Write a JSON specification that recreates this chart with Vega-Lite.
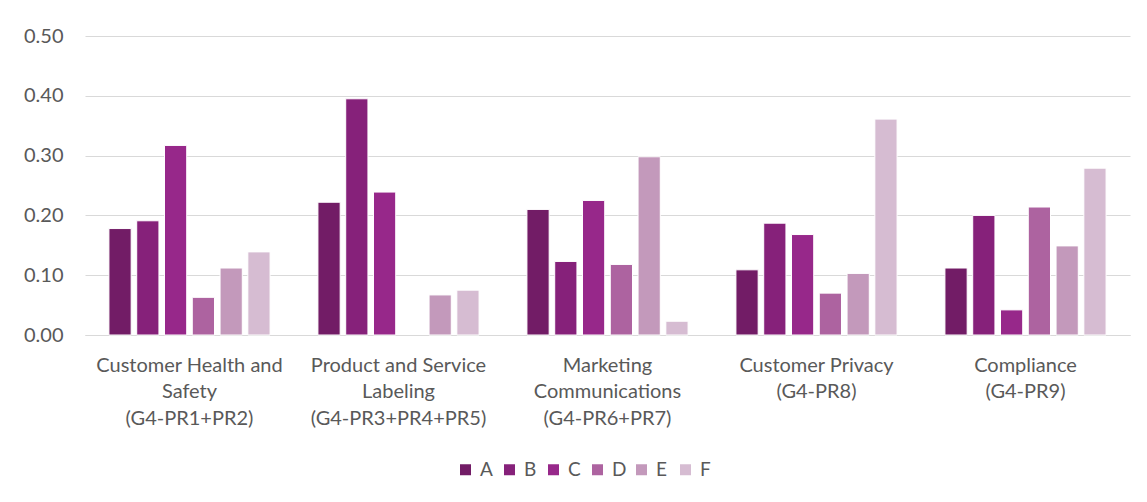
{
  "$schema": "https://vega.github.io/schema/vega-lite/v6.json",
  "width": 1045,
  "height": 299,
  "autosize": {"type": "none"},
  "padding": {"left": 85, "top": 36, "right": 17, "bottom": 167},
  "background": "white",
  "config": {
    "font": "Lato",
    "view": {"stroke": null}
  },
  "data": {
    "values": [
      {"category": "Customer Health and\nSafety\n(G4-PR1+PR2)", "series": "A", "value": 0.178},
      {"category": "Customer Health and\nSafety\n(G4-PR1+PR2)", "series": "B", "value": 0.191},
      {"category": "Customer Health and\nSafety\n(G4-PR1+PR2)", "series": "C", "value": 0.317},
      {"category": "Customer Health and\nSafety\n(G4-PR1+PR2)", "series": "D", "value": 0.063},
      {"category": "Customer Health and\nSafety\n(G4-PR1+PR2)", "series": "E", "value": 0.112},
      {"category": "Customer Health and\nSafety\n(G4-PR1+PR2)", "series": "F", "value": 0.139},
      {"category": "Product and Service\nLabeling\n(G4-PR3+PR4+PR5)", "series": "A", "value": 0.222},
      {"category": "Product and Service\nLabeling\n(G4-PR3+PR4+PR5)", "series": "B", "value": 0.395},
      {"category": "Product and Service\nLabeling\n(G4-PR3+PR4+PR5)", "series": "C", "value": 0.239},
      {"category": "Product and Service\nLabeling\n(G4-PR3+PR4+PR5)", "series": "E", "value": 0.067},
      {"category": "Product and Service\nLabeling\n(G4-PR3+PR4+PR5)", "series": "F", "value": 0.075},
      {"category": "Marketing\nCommunications\n(G4-PR6+PR7)", "series": "A", "value": 0.210},
      {"category": "Marketing\nCommunications\n(G4-PR6+PR7)", "series": "B", "value": 0.123},
      {"category": "Marketing\nCommunications\n(G4-PR6+PR7)", "series": "C", "value": 0.225},
      {"category": "Marketing\nCommunications\n(G4-PR6+PR7)", "series": "D", "value": 0.118},
      {"category": "Marketing\nCommunications\n(G4-PR6+PR7)", "series": "E", "value": 0.298},
      {"category": "Marketing\nCommunications\n(G4-PR6+PR7)", "series": "F", "value": 0.023},
      {"category": "Customer Privacy\n(G4-PR8)", "series": "A", "value": 0.109},
      {"category": "Customer Privacy\n(G4-PR8)", "series": "B", "value": 0.187},
      {"category": "Customer Privacy\n(G4-PR8)", "series": "C", "value": 0.168},
      {"category": "Customer Privacy\n(G4-PR8)", "series": "D", "value": 0.070},
      {"category": "Customer Privacy\n(G4-PR8)", "series": "E", "value": 0.103},
      {"category": "Customer Privacy\n(G4-PR8)", "series": "F", "value": 0.361},
      {"category": "Compliance\n(G4-PR9)", "series": "A", "value": 0.112},
      {"category": "Compliance\n(G4-PR9)", "series": "B", "value": 0.200},
      {"category": "Compliance\n(G4-PR9)", "series": "C", "value": 0.042},
      {"category": "Compliance\n(G4-PR9)", "series": "D", "value": 0.214},
      {"category": "Compliance\n(G4-PR9)", "series": "E", "value": 0.149},
      {"category": "Compliance\n(G4-PR9)", "series": "F", "value": 0.279}
    ]
  },
  "mark": {"type": "bar", "stroke": "white", "strokeWidth": 1},
  "encoding": {
    "x": {
      "field": "category",
      "type": "nominal",
      "sort": null,
      "scale": {"paddingInner": 0.229, "paddingOuter": 0.1145},
      "axis": {
        "title": null,
        "labelAngle": 0,
        "labelExpr": "split(datum.value, '\\n')",
        "labelFontSize": 20,
        "labelColor": "#595959",
        "labelLineHeight": 26.5,
        "labelPadding": 20,
        "labelLimit": 400,
        "ticks": false,
        "domainColor": "#D9D9D9",
        "domainWidth": 1
      }
    },
    "xOffset": {
      "field": "series",
      "type": "nominal",
      "scale": {"domain": ["A", "B", "C", "D", "E", "F"], "paddingInner": 0.2, "paddingOuter": 0}
    },
    "y": {
      "field": "value",
      "type": "quantitative",
      "scale": {"domain": [0, 0.5], "nice": false},
      "axis": {
        "title": null,
        "values": [0, 0.1, 0.2, 0.3, 0.4, 0.5],
        "format": ".2f",
        "domain": false,
        "ticks": false,
        "gridColor": "#D9D9D9",
        "gridWidth": 1,
        "labelFontSize": 20,
        "labelColor": "#595959",
        "labelPadding": 22
      }
    },
    "color": {
      "field": "series",
      "type": "nominal",
      "scale": {
        "domain": ["A", "B", "C", "D", "E", "F"],
        "range": ["#721C66", "#86217A", "#97288A", "#AD63A0", "#C399BB", "#D6BCD2"]
      },
      "legend": {
        "title": null,
        "orient": "none",
        "legendX": 371,
        "legendY": 424,
        "direction": "horizontal",
        "symbolType": "square",
        "symbolSize": 121,
        "symbolStrokeWidth": 0,
        "labelFontSize": 19,
        "labelColor": "#595959",
        "labelOffset": 5,
        "columnPadding": 5,
        "gridAlign": "all"
      }
    }
  }
}
